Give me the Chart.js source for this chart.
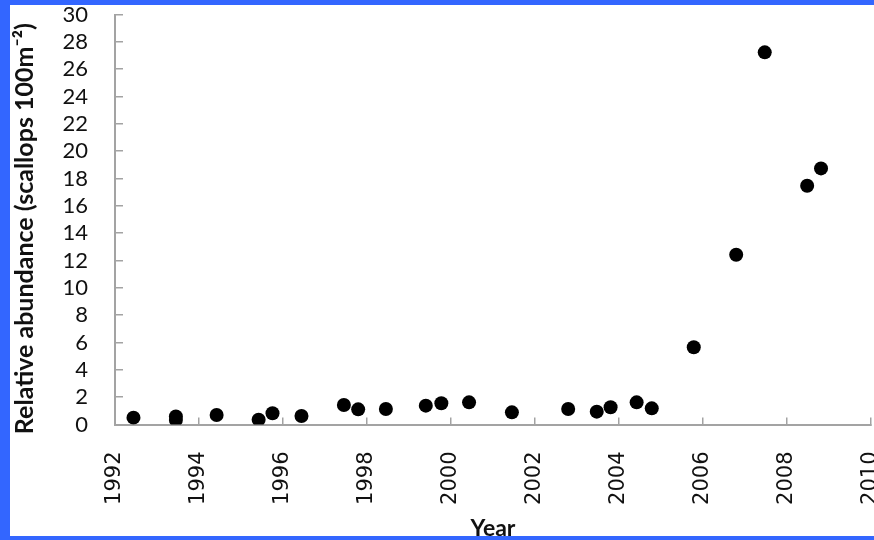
<!DOCTYPE html>
<html>
<head>
<meta charset="utf-8">
<script src="https://cdn.jsdelivr.net/npm/chart.js@4/dist/chart.umd.min.js"></script>
<style>
  html, body { margin: 0; padding: 0; width: 874px; height: 540px; overflow: hidden; background: #3366ff; }
  #wrap { position: absolute; left: 10px; top: 5px; width: 864px; height: 531px; overflow: hidden; background: #ffffff; }
  #c { display: block; }
</style>
</head>
<body>
<div id="wrap"><canvas id="c" width="864" height="545"></canvas></div>
<script>
// ---- data ----
const years = [1992.44, 1993.45, 1993.45, 1994.42, 1995.42, 1995.75, 1996.44, 1997.45, 1997.79, 1998.45,
               1999.40, 1999.77, 2000.43, 2001.45, 2002.79, 2003.47, 2003.80, 2004.42, 2004.78, 2005.78,
               2006.79, 2007.47, 2008.48, 2008.81];
const abundance = [0.50, 0.58, 0.33, 0.70, 0.35, 0.82, 0.62, 1.43, 1.11, 1.13,
                   1.38, 1.55, 1.62, 0.89, 1.13, 0.94, 1.26, 1.62, 1.18, 5.65,
                   12.42, 27.23, 17.47, 18.74];
const xTicks = [1992, 1994, 1996, 1998, 2000, 2002, 2004, 2006, 2008, 2010];
const yTicks = [0, 2, 4, 6, 8, 10, 12, 14, 16, 18, 20, 22, 24, 26, 28, 30];
const xTitle = 'Year';
const yTitle = 'Relative abundance (scallops 100m\u207B\u00B2)   ';

const points = years.map((y, i) => ({ x: y, y: abundance[i] }));
const axisGrey = '#a3a3a3';

new Chart(document.getElementById('c'), {
  type: 'scatter',
  data: {
    datasets: [{
      data: points,
      backgroundColor: '#000000',
      borderColor: '#000000',
      borderWidth: 0,
      pointRadius: 7,
      pointHoverRadius: 7
    }]
  },
  options: {
    responsive: false,
    animation: false,
    devicePixelRatio: 1,
    layout: { autoPadding: false, padding: { left: 0, right: 3, top: 9.5, bottom: 0 } },
    plugins: { legend: { display: false }, tooltip: { enabled: false } },
    scales: {
      x: {
        type: 'linear',
        min: xTicks[0],
        max: xTicks[xTicks.length - 1],
        afterBuildTicks: s => { s.ticks = xTicks.map(v => ({ value: v })); },
        afterFit: s => { s.height = 125.5; s.paddingLeft = 0; s.paddingRight = 0; },
        border: { display: true, color: axisGrey, width: 2 },
        grid: { display: true, drawOnChartArea: false, drawTicks: true, tickLength: -7, color: axisGrey, lineWidth: 1.5 },
        ticks: {
          autoSkip: false,
          minRotation: 90,
          maxRotation: 90,
          padding: 34,
          color: '#111111',
          font: { family: 'DejaVu Sans', size: 21 },
          callback: v => String(v)
        },
        title: {
          display: true,
          text: xTitle,
          color: '#111111',
          font: { family: 'Lato', size: 23, weight: 'bold' },
          padding: { top: 0, bottom: 8 }
        }
      },
      y: {
        type: 'linear',
        min: yTicks[0],
        max: yTicks[yTicks.length - 1],
        afterBuildTicks: s => { s.ticks = yTicks.map(v => ({ value: v })); },
        afterFit: s => { s.width = 105; s.paddingTop = 0; s.paddingBottom = 0; },
        border: { display: true, color: axisGrey, width: 2 },
        grid: { display: true, drawOnChartArea: false, drawTicks: true, tickLength: -8, color: axisGrey, lineWidth: 1.5 },
        ticks: {
          autoSkip: false,
          padding: 35,
          color: '#111111',
          font: { family: 'Lato', size: 22 },
          callback: v => String(v)
        },
        title: {
          display: true,
          text: yTitle,
          color: '#111111',
          font: { family: 'Lato', size: 25, weight: 'bold' },
          padding: { top: 0, bottom: 0 }
        }
      }
    }
  }
});
</script>
</body>
</html>
